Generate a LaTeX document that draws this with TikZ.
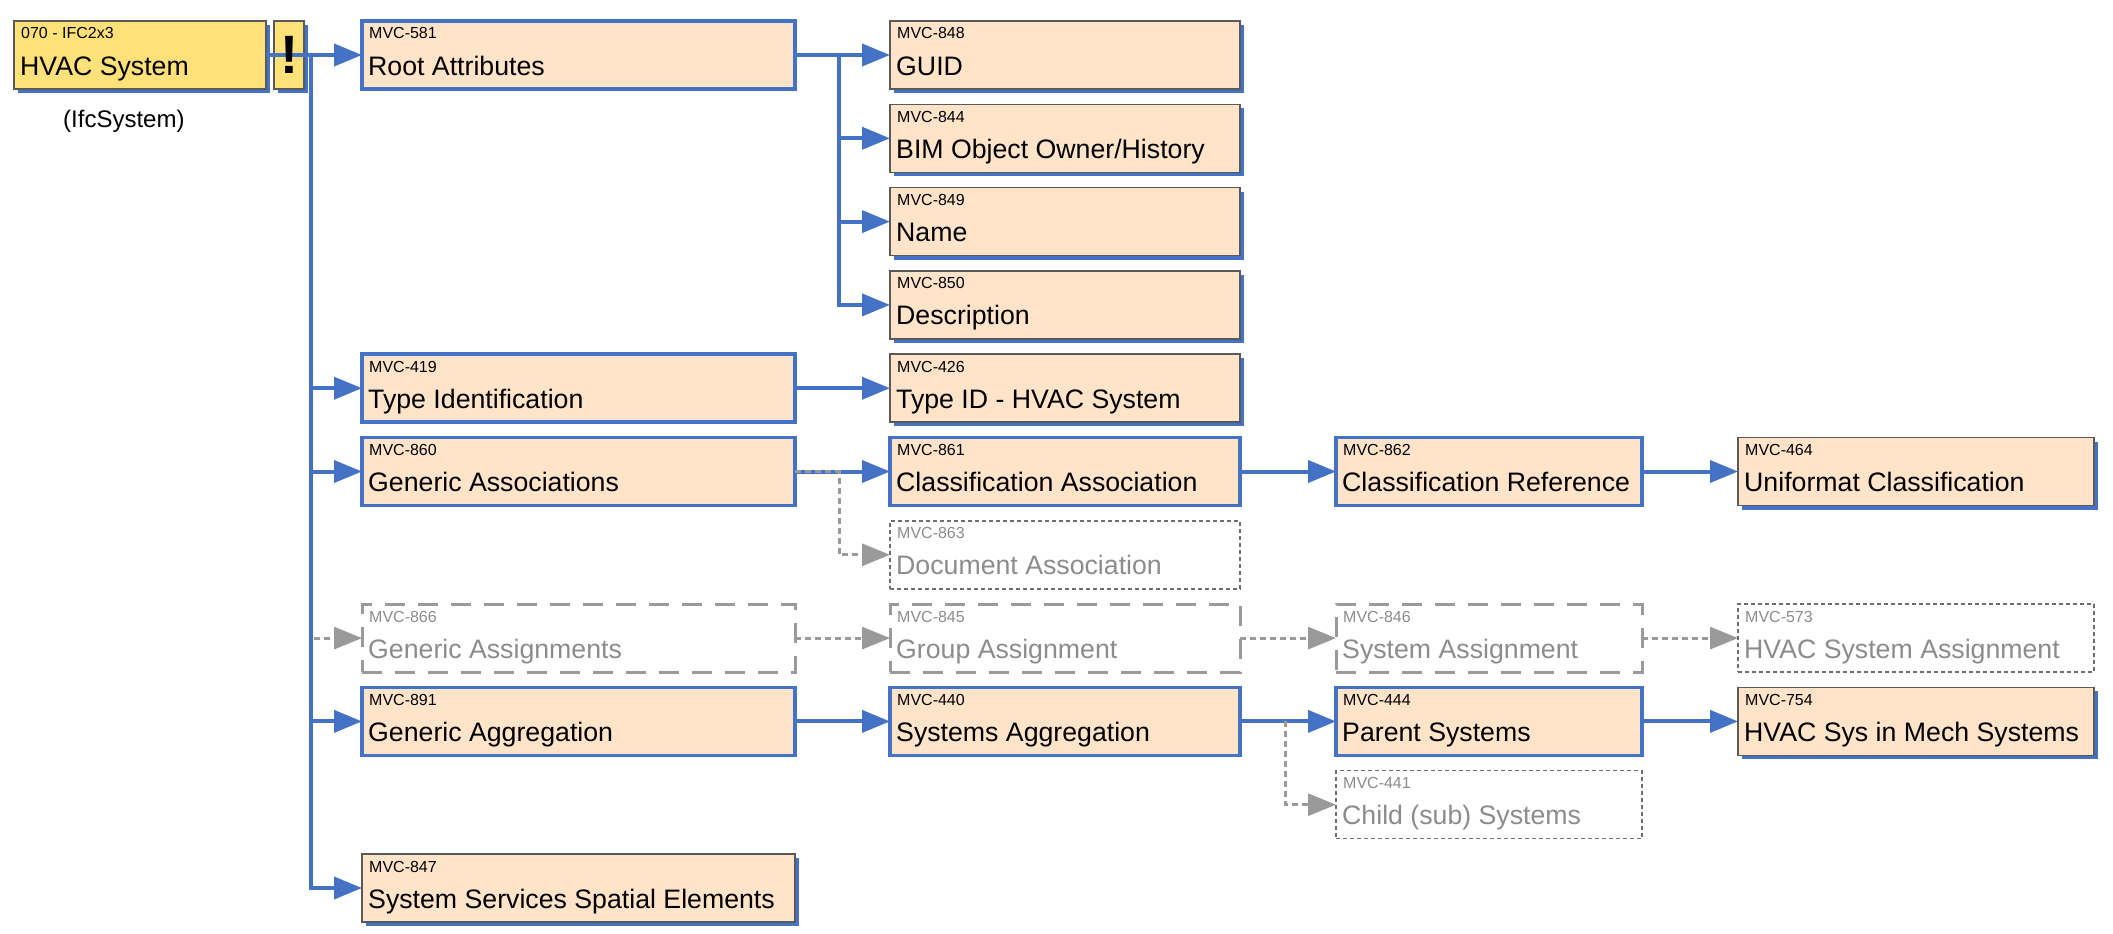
\documentclass[tikz,border=0pt]{standalone}
\usepackage{fontspec}
\setmainfont{Liberation Sans}
\usetikzlibrary{arrows.meta,shadows,calc}
\definecolor{cblue}{HTML}{4472C4}
\definecolor{peach}{HTML}{FFE4C9}
\definecolor{ylw}{HTML}{FFE17A}
\definecolor{dgray}{HTML}{595959}
\definecolor{lgray}{HTML}{9A9A9A}
\definecolor{tgray}{HTML}{8C8C8C}
\definecolor{dotgray}{HTML}{6E6E6E}
\tikzset{
  basebox/.style={rectangle, inner sep=0pt, outer sep=0pt, minimum height=68pt},
  activebox/.style={basebox, draw=cblue, line width=3.5pt, fill=peach},
  leafbox/.style={basebox, draw=dgray, line width=1.5pt, fill=peach,
    drop shadow={shadow xshift=4pt, shadow yshift=-4pt, fill=cblue, opacity=1}},
  rootbox/.style={leafbox, fill=ylw},
  optbox/.style={basebox, draw=lgray, line width=3pt, dash pattern=on 20pt off 13pt, fill=white},
  dotbox/.style={basebox, draw=dotgray, line width=1.5pt, dash pattern=on 4pt off 3pt, fill=white},
  idtxt/.style={inner sep=0pt, font=\fontsize{16}{19}\selectfont, anchor=base west},
  maintxt/.style={inner sep=0pt, font=\fontsize{26.7}{30}\selectfont, anchor=base west},
  bluecon/.style={draw=cblue, line width=4pt, -{Triangle[length=28pt,width=22pt]}},
  graycon/.style={draw=lgray, line width=3pt, dash pattern=on 6pt off 4pt, -{Triangle[length=28pt,width=22pt]}},
  blueline/.style={draw=cblue, line width=4pt},
}
\newcommand{\mvcbox}[8]{%
  \node[#2, minimum width=#5pt, anchor=north west] (#1) at (#3,#4) {};
  \node[idtxt, text=#8] (#1-id) at ([shift={(7pt,-18pt)}]#1.north west) {#6};
  \node[maintxt, text=#8] (#1-txt) at ([shift={(6pt,-54pt)}]#1.north west) {#7};
}
\begin{document}
\begin{tikzpicture}[x=1pt, y=-1pt]
\useasboundingbox (0,0) rectangle (2113,934);
% root
\mvcbox{root}{rootbox}{14}{21}{252}{070 - IFC2x3}{HVAC System}{black}
\node[rootbox, minimum width=30pt, anchor=north west] (excl) at (274,21) {};
\node[inner sep=0pt, anchor=base west, font=\fontsize{24}{28}\selectfont] (ifcsys) at (63,128) {(IfcSystem)};
% column 1
\mvcbox{ra}{activebox}{362}{21}{433}{MVC-581}{Root Attributes}{black}
\mvcbox{ti}{activebox}{362}{354.2}{433}{MVC-419}{Type Identification}{black}
\mvcbox{gas}{activebox}{362}{437.5}{433}{MVC-860}{Generic Associations}{black}
\mvcbox{gasn}{optbox}{362}{604.1}{433}{MVC-866}{Generic Assignments}{tgray}
\mvcbox{gagg}{activebox}{362}{687.4}{433}{MVC-891}{Generic Aggregation}{black}
\mvcbox{sse}{leafbox}{362}{854}{433}{MVC-847}{System Services Spatial Elements}{black}
% column 2
\mvcbox{guid}{leafbox}{890}{21}{350}{MVC-848}{GUID}{black}
\mvcbox{bim}{leafbox}{890}{104.3}{350}{MVC-844}{BIM Object Owner/History}{black}
\mvcbox{name}{leafbox}{890}{187.6}{350}{MVC-849}{Name}{black}
\mvcbox{desc}{leafbox}{890}{270.9}{350}{MVC-850}{Description}{black}
\mvcbox{tid}{leafbox}{890}{354.2}{350}{MVC-426}{Type ID - HVAC System}{black}
\mvcbox{cla}{activebox}{890}{437.5}{350}{MVC-861}{Classification Association}{black}
\mvcbox{doc}{dotbox}{890}{520.8}{350}{MVC-863}{Document Association}{tgray}
\mvcbox{grp}{optbox}{890}{604.1}{350}{MVC-845}{Group Assignment}{tgray}
\mvcbox{sagg}{activebox}{890}{687.4}{350}{MVC-440}{Systems Aggregation}{black}
% column 3
\mvcbox{clr}{activebox}{1336}{437.5}{306}{MVC-862}{Classification Reference}{black}
\mvcbox{sysa}{optbox}{1336}{604.1}{306}{MVC-846}{System Assignment}{tgray}
\mvcbox{par}{activebox}{1336}{687.4}{306}{MVC-444}{Parent Systems}{black}
\mvcbox{child}{dotbox}{1336}{770.7}{306}{MVC-441}{Child (sub) Systems}{tgray}
% column 4
\mvcbox{unif}{leafbox}{1738}{437.5}{356}{MVC-464}{Uniformat Classification}{black}
\mvcbox{hvsa}{dotbox}{1738}{604.1}{356}{MVC-573}{HVAC System Assignment}{tgray}
\mvcbox{hvsm}{leafbox}{1738}{687.4}{356}{MVC-754}{HVAC Sys in Mech Systems}{black}
% connectors from root
\coordinate (trunk) at (311,55);
\draw[bluecon] (root.east) -- (ra.west);
\draw[bluecon] (trunk) |- (ti.west);
\draw[bluecon] (trunk) |- (gas.west);
\draw[bluecon] (trunk) |- (gagg.west);
\draw[bluecon] (trunk) |- (sse.west);
\draw[graycon, shorten <=3pt] (trunk |- gasn.west) -- (gasn.west);
% Root Attributes branch
\coordinate (rab) at (839,55);
\draw[bluecon] (ra.east) -- (guid.west);
\draw[bluecon] (rab) |- (bim.west);
\draw[bluecon] (rab) |- (name.west);
\draw[bluecon] (rab) |- (desc.west);
% Type identification
\draw[bluecon] (ti.east) -- (tid.west);
% Associations
\coordinate (gab) at (839,471.5);
\draw[bluecon] (gas.east) -- (cla.west);
\draw[graycon] (gas.east) -- (gab) |- (doc.west);
\draw[bluecon] (cla.east) -- (clr.west);
\draw[bluecon] (clr.east) -- (unif.west);
% Assignments
\draw[graycon] (gasn.east) -- (grp.west);
\draw[graycon] (grp.east) -- (sysa.west);
\draw[graycon] (sysa.east) -- (hvsa.west);
% Aggregation
\coordinate (sab) at (1285,721.4);
\draw[bluecon] (gagg.east) -- (sagg.west);
\draw[bluecon] (sagg.east) -- (par.west);
\draw[graycon] (sab) |- (child.west);
\draw[bluecon] (par.east) -- (hvsm.west);
% exclamation glyph on top
\node[inner sep=0pt, anchor=base, font=\fontsize{54}{58}\selectfont\bfseries] (excl-txt) at ([yshift=-53pt]excl.north) {!};
\end{tikzpicture}
\end{document}
